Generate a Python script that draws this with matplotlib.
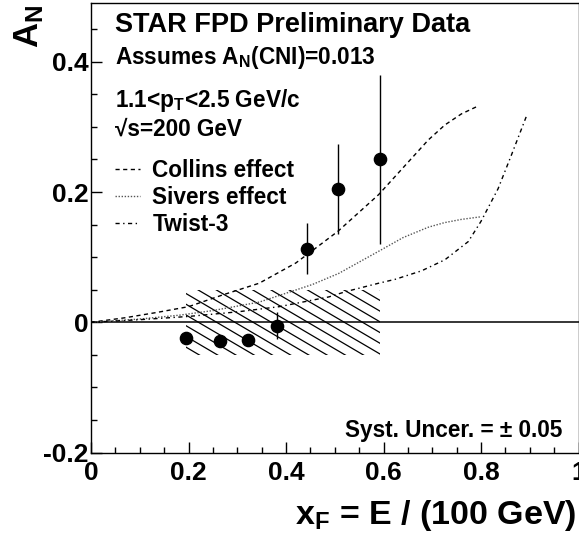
import numpy as np
import matplotlib
matplotlib.use("Agg")
import matplotlib.pyplot as plt
from matplotlib.collections import LineCollection
from matplotlib.patches import Rectangle
from matplotlib.ticker import MultipleLocator

plt.rcParams['font.family'] = ['Liberation Sans', 'DejaVu Sans']
plt.rcParams['font.weight'] = 'bold'
plt.rcParams['mathtext.fontset'] = 'custom'
plt.rcParams['mathtext.rm'] = 'Liberation Sans:bold'
plt.rcParams['mathtext.it'] = 'Liberation Sans:bold'
plt.rcParams['mathtext.bf'] = 'Liberation Sans:bold'

# data points
xf = [0.195, 0.265, 0.323, 0.382, 0.444, 0.507, 0.593]
an = [-0.024, -0.028, -0.027, -0.005, 0.113, 0.204, 0.250]
an_err = [0.008, 0.008, 0.008, 0.021, 0.039, 0.069, 0.130]

# theory curves
collins_x = [0, 0.07, 0.134, 0.2, 0.27, 0.345, 0.42, 0.454, 0.507, 0.59, 0.658, 0.692, 0.726, 0.76, 0.794]
collins_y = [0, 0.007, 0.015, 0.024, 0.042, 0.060, 0.091, 0.110, 0.140, 0.196, 0.252, 0.280, 0.303, 0.320, 0.332]
sivers_x = [0, 0.1, 0.182, 0.25, 0.345, 0.454, 0.508, 0.59, 0.64, 0.692, 0.725, 0.76, 0.8]
sivers_y = [0, 0.005, 0.011, 0.018, 0.031, 0.058, 0.075, 0.109, 0.130, 0.146, 0.153, 0.158, 0.162]
twist3_x = [0, 0.1, 0.2, 0.3, 0.386, 0.488, 0.522, 0.59, 0.624, 0.678, 0.726, 0.774, 0.8, 0.835, 0.862, 0.894]
twist3_y = [0, 0.004, 0.009, 0.016, 0.024, 0.039, 0.047, 0.060, 0.066, 0.079, 0.096, 0.124, 0.155, 0.205, 0.256, 0.318]

syst = 0.05

fig = plt.figure(figsize=(5.79, 5.35), dpi=100)
ax = fig.add_axes([91/579, (535-452.6)/535, (578.5-91)/579, 449.5/535])
ax.set_xlim(0, 1)
ax.set_ylim(-0.2, 0.49)

# systematic band (hatched box)
x0, x1 = xf[0], xf[-1]
rect = Rectangle((x0, -syst), x1 - x0, 2*syst, facecolor='none', edgecolor='none')
ax.add_patch(rect)
slope = -0.44
spacing = 0.0374
segs = []
for k in range(-30, 30):
    xs = 0.406 + k*spacing
    segs.append([(xs - 0.5, syst - slope*0.5), (xs + 0.5, syst + slope*0.5)])
lc = LineCollection(segs, colors='black', linewidths=0.9)
ax.add_collection(lc)
lc.set_clip_path(rect)

ax.axhline(0, color='black', lw=1.1)

l1, = ax.plot(collins_x, collins_y, color='black', lw=1.0, ls=(0, (3, 2.5)), label='Collins effect')
l2, = ax.plot(sivers_x, sivers_y, color='#555555', lw=1.0, ls=(0, (1, 1.2)), label='Sivers effect')
l3, = ax.plot(twist3_x, twist3_y, color='black', lw=1.0, ls=(0, (3, 2.5, 1, 2.5)), label='Twist-3')

ax.errorbar(xf, an, yerr=an_err, fmt='o', color='black', ms=8.8, elinewidth=1.0, capsize=0)

for s in ax.spines.values():
    s.set_linewidth(1.0)
ax.xaxis.set_major_locator(MultipleLocator(0.2))
ax.xaxis.set_minor_locator(MultipleLocator(0.05))
ax.yaxis.set_major_locator(MultipleLocator(0.2))
ax.yaxis.set_minor_locator(MultipleLocator(0.05))
ax.tick_params(which='both', direction='in', top=False, right=False, width=1.0)
ax.tick_params(which='major', length=8, labelsize=19)
ax.tick_params(which='minor', length=4.5)
ax.tick_params(axis='y', pad=2)
ax.tick_params(axis='x', pad=6)
ax.set_xticks([0, 0.2, 0.4, 0.6, 0.8, 1.0])
ax.set_xticklabels(['0', '0.2', '0.4', '0.6', '0.8', '1'])
ax.set_yticks([-0.2, 0, 0.2, 0.4])
ax.set_yticklabels(['-0.2', '0', '0.2', '0.4'])

T = ax.transAxes
def px(xp, yp):
    return ((xp-91)/487.5, (452.6-yp)/449.5)

fs = 16.3
ax.text(*px(115, 31.7), 'STAR FPD Preliminary Data', transform=T, fontsize=19.5, ha='left', va='baseline')
ax.text(*px(115, 64.3), r'Assumes A$_{\rm N}$(CNI)=0.013', transform=T, fontsize=fs, ha='left', va='baseline')
ax.text(*px(115, 106.7), r'1.1<p$_{\rm T}$<2.5 GeV/c', transform=T, fontsize=fs, ha='left', va='baseline')
ax.text(*px(115, 135.7), '\u221as=200 GeV', transform=T, fontsize=fs, ha='left', va='baseline')
ax.text(*px(562, 437), 'Syst. Uncer. = \u00b1 0.05', transform=T, fontsize=fs, ha='right', va='baseline')

leg = ax.legend(handles=[l1, l2, l3], loc='upper left', bbox_to_anchor=px(115, 159),
                frameon=False, fontsize=fs, handlelength=1.1, handletextpad=0.55,
                labelspacing=0.17, borderpad=0, borderaxespad=0)

fig.text(12/579, 1 - 5/535, r'A$_{\rm N}$', rotation=90, ha='left', va='top', fontsize=25)
fig.text(577/579, 2/535, r'x$_{\rm F}$ = E / (100 GeV)', ha='right', va='bottom', fontsize=24.5)

fig.savefig('out.png', dpi=100)
